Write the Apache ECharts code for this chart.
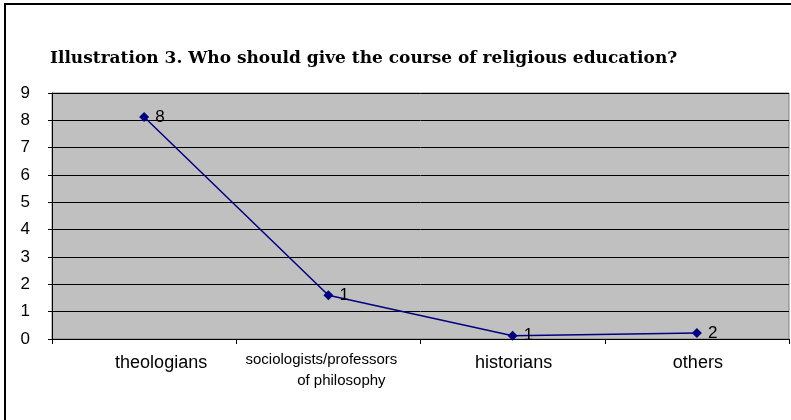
<!DOCTYPE html>
<html>
<head>
<meta charset="utf-8">
<script src="https://cdn.jsdelivr.net/npm/echarts@6/dist/echarts.min.js"></script>
<style>
  html, body { margin: 0; padding: 0; background: #fff; }
  #chart { width: 791px; height: 420px; }
</style>
</head>
<body>
<div id="chart"></div>
<script>
// who should give the course
var categories = ['theologians', 'sociologists/professors\nof philosophy', 'historians', 'others'];
var values = [8.12, 1.6, 0.12, 0.22];
var pointLabels = ['8', '1', '1', '2'];
var yTicks = [0, 1, 2, 3, 4, 5, 6, 7, 8, 9];

var chart = echarts.init(document.getElementById('chart'));

var option = {
  animation: false,
  title: {
    text: 'Illustration 3. Who should give the course of religious education?',
    left: 45,
    top: 45,
    textStyle: {
      fontFamily: 'DejaVu Serif',
      fontWeight: 'bold',
      fontSize: 17,
      color: '#000'
    }
  },
  graphic: [{
    type: 'rect',
    shape: { x: 5, y: 4, width: 820, height: 450 },
    style: { fill: null, stroke: '#000', lineWidth: 2 },
    silent: true
  }],
  grid: {
    left: 52, right: 2, top: 93, bottom: 81,
    show: true,
    backgroundColor: '#c0c0c0',
    borderColor: '#808080',
    borderWidth: 1
  },
  xAxis: {
    type: 'category',
    data: categories,
    boundaryGap: true,
    axisLine: { lineStyle: { color: '#000', width: 1 } },
    axisTick: { show: true, length: 5, lineStyle: { color: '#000' } },
    axisLabel: {
      margin: 10,
      interval: 0,
      formatter: function (v) {
        if (v === 'theologians') return '{t|' + v + '}';
        if (v.indexOf('\n') >= 0) {
          var parts = v.split('\n');
          return '{s1|' + parts[0] + '}\n{s2|' + parts[1] + '}';
        }
        return '{n|' + v + '}';
      },
      rich: {
        n: { fontFamily: 'Liberation Sans', fontSize: 18, color: '#000', lineHeight: 21, padding: [8, 0, 0, 2] },
        t: { fontFamily: 'Liberation Sans', fontSize: 18, color: '#000', lineHeight: 21, padding: [8, 0, 0, 34] },
        s1: { fontFamily: 'Liberation Sans', fontSize: 15, color: '#000', lineHeight: 21, padding: [0, 14, 0, 0] },
        s2: { fontFamily: 'Liberation Sans', fontSize: 15, color: '#000', lineHeight: 21, padding: [0, 0, 0, 26] }
      }
    }
  },
  yAxis: {
    type: 'value',
    min: yTicks[0],
    max: yTicks[yTicks.length - 1],
    interval: 1,
    axisLine: { show: true, lineStyle: { color: '#000', width: 1 } },
    axisTick: { show: true, length: 4, lineStyle: { color: '#000' } },
    splitLine: { show: true, lineStyle: { color: '#000', width: 1 } },
    axisLabel: {
      margin: 22,
      fontFamily: 'Liberation Sans',
      fontSize: 17,
      color: '#000'
    }
  },
  series: [{
    type: 'line',
    data: values,
    symbol: 'diamond',
    symbolSize: 10,
    lineStyle: { color: '#000080', width: 1.5 },
    itemStyle: { color: '#000080' },
    label: {
      show: true,
      position: 'right',
      distance: 6,
      fontFamily: 'Liberation Sans',
      fontSize: 17,
      color: '#000',
      formatter: function (p) { return pointLabels[p.dataIndex]; }
    }
  }]
};

chart.setOption(option);
</script>
</body>
</html>
